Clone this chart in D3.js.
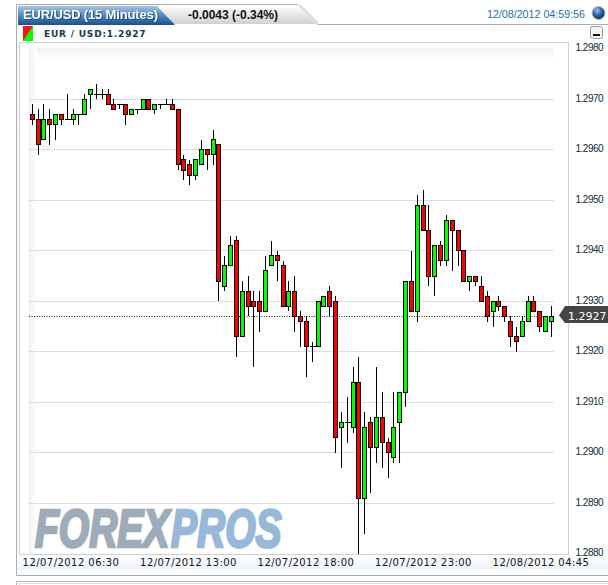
<!DOCTYPE html>
<html><head><meta charset="utf-8">
<script src="https://cdnjs.cloudflare.com/ajax/libs/d3/7.8.5/d3.min.js"></script>
<style>html,body{margin:0;padding:0;background:#fff;overflow:hidden}svg{display:block}</style>
</head><body><svg id="c" width="608" height="585"></svg>
<script>
// Values in 1/10000 above 1.2000: [open, high, low, close]
const opens  = [2967,2966,2962,2966,2965,2967,2966,2966,2967,2967,2971,2971,2971,2971,2969,2969,2969,2967,2968,2968,2970,2968,2969,2969,2969,2968,2958,2957,2955,2957,2960,2959,2961,2933,2937,2942,2923,2932,2930,2930,2928,2937,2939,2937,2929,2932,2927,2926,2921,2921,2929,2932,2930,2905,2906,2905,2914,2891,2906,2901,2907,2902,2899,2906,2912,2934,2928,2949,2944,2935,2941,2938,2946,2944,2940,2934,2935,2933,2931,2928,2930,2929,2926,2923,2923,2926,2930,2928,2924,2926];
const highs  = [2969,2968,2969,2968,2967,2967,2971,2968,2967,2971,2972,2973,2972,2972,2970,2969,2969,2968,2968,2970,2970,2969,2969,2970,2970,2968,2959,2958,2958,2962,2960,2964,2961,2939,2943,2943,2934,2935,2932,2932,2939,2942,2940,2938,2934,2935,2928,2927,2922,2930,2931,2933,2931,2908,2911,2917,2919,2908,2907,2917,2912,2903,2912,2912,2934,2940,2951,2952,2949,2941,2942,2947,2946,2944,2940,2935,2935,2935,2932,2930,2931,2929,2927,2925,2927,2931,2931,2928,2927,2929];
const lows   = [2965,2959,2962,2961,2962,2965,2966,2965,2965,2967,2968,2970,2970,2969,2968,2968,2965,2967,2967,2968,2968,2967,2968,2969,2968,2956,2954,2953,2954,2957,2956,2957,2930,2932,2937,2919,2923,2927,2917,2924,2928,2937,2934,2929,2928,2924,2921,2915,2918,2921,2929,2927,2900,2897,2902,2904,2880,2884,2892,2898,2897,2895,2898,2898,2909,2928,2926,2944,2933,2931,2937,2937,2936,2937,2934,2932,2933,2930,2926,2925,2928,2926,2921,2920,2923,2926,2928,2924,2924,2923];
const closes = [2966,2961,2966,2965,2967,2966,2966,2967,2967,2970,2972,2971,2971,2969,2968,2969,2967,2968,2968,2970,2968,2969,2969,2969,2968,2957,2956,2955,2958,2960,2959,2962,2934,2937,2941,2923,2932,2929,2929,2928,2936,2939,2938,2929,2932,2927,2926,2921,2921,2930,2931,2929,2903,2906,2906,2914,2891,2905,2901,2907,2902,2900,2905,2912,2934,2928,2949,2944,2935,2941,2938,2946,2944,2940,2934,2935,2934,2930,2927,2930,2929,2927,2923,2922,2926,2930,2928,2925,2927,2927];
const priceTicks = ["1.2980","1.2970","1.2960","1.2950","1.2940","1.2930","1.2920","1.2910","1.2900","1.2890","1.2880"];
const timeTicks = ["12/07/2012 06:30","12/07/2012 13:00","12/07/2012 18:00","12/07/2012 23:00","12/08/2012 04:45"];
const lastPrice = 1.2927;
const titleText = "EUR/USD (15 Minutes)", changeText = "-0.0043 (-0.34%)", stampText = "12/08/2012 04:59:56", pairText = "EUR / USD:1.2927";

const svg = d3.select("#c");
const defs = svg.append("defs");
function grad(id, stops, horiz){
  const g = defs.append("linearGradient").attr("id",id).attr("x1",0).attr("y1",0).attr("x2",horiz?1:0).attr("y2",horiz?0:1);
  stops.forEach(s=>g.append("stop").attr("offset",s[0]).attr("stop-color",s[1]));
}
grad("blue",[[0,"#a5c4e6"],[.5,"#5189c2"],[1,"#17508f"]]);
grad("gray",[[0,"#ffffff"],[1,"#d0d0d0"]]);
grad("shadeL",[[0,"#f1f1f1"],[1,"#ffffff"]],true);
grad("shadeT",[[0,"#f1f1f1"],[1,"#ffffff"]]);
grad("strip",[[0,"#ffffff"],[1,"#ecf3fb"]]);
const globeG = defs.append("radialGradient").attr("id","globe").attr("cx",.4).attr("cy",.3).attr("r",.7);
[[0,"#9cc4ee"],[.5,"#2a68b0"],[1,"#10305c"]].forEach(s=>globeG.append("stop").attr("offset",s[0]).attr("stop-color",s[1]));

const y = d3.scaleLinear().domain([1.2880,1.2980]).range([553.8,48.8]);
const x = d3.scaleLinear().domain([0,89]).range([31.8,550.9]);
const xt = d3.scalePoint().domain(timeTicks).range([70.5,540.5]);
const px = v => 1 + v/10000;

// outer frame
svg.append("path").attr("d","M16.5,575.5V4.5H298L318,24.5H608").attr("fill","none").attr("stroke","#a8adb0");
svg.append("path").attr("d","M16.5,575.5H608").attr("stroke","#a8adb0").attr("fill","none");
svg.append("path").attr("d","M16.5,585V581.5H608").attr("stroke","#b4b8ba").attr("fill","none");
svg.append("path").attr("d","M19.5,585V583.5H608").attr("stroke","#dcdcdc").attr("fill","none");
// tabs
svg.append("path").attr("d","M18,5H297L316,24H18Z").attr("fill","url(#gray)");
svg.append("path").attr("d","M300,5.5L318,23").attr("stroke","#dddddd").attr("stroke-width",2).attr("fill","none");
svg.append("path").attr("d","M18,6H157L175,25H18Z").attr("fill","url(#blue)");
svg.append("text").text(titleText).attr("x",90.5).attr("y",18.5).attr("text-anchor","middle").attr("textLength",135)
  .attr("font-family","Liberation Sans").attr("font-weight","bold").attr("font-size",13).attr("fill","#fff")
  .style("filter","drop-shadow(1px 1px 0 #1f4f85)");
svg.append("text").text(changeText).attr("x",233).attr("y",18.5).attr("text-anchor","middle")
  .attr("font-family","Liberation Sans").attr("font-weight","bold").attr("font-size",12).attr("fill","#111");
svg.append("text").text(stampText).attr("x",585).attr("y",18).attr("text-anchor","end")
  .attr("font-family","Liberation Sans").attr("font-size",10.7).attr("fill","#2a6cb0");
svg.append("circle").attr("cx",598.5).attr("cy",13).attr("r",6.5).attr("fill","url(#globe)").attr("stroke","#b8b8b8");
// minimize button
svg.append("rect").attr("x",590.5).attr("y",26.5).attr("width",12).attr("height",12).attr("rx",2).attr("fill","#f3f3f3").attr("stroke","#9a9a9a");
svg.append("rect").attr("x",593).attr("y",34).attr("width",7).attr("height",2).attr("fill","#111");
// pair row
svg.append("path").attr("d","M23,26H33V41H23Z").attr("fill","#00ff00");
svg.append("path").attr("d","M23,26H33L23,41Z").attr("fill","#ff1111");
svg.append("text").text(pairText).attr("x",44).attr("y",37).attr("font-family","DejaVu Sans").attr("font-weight","bold")
  .attr("font-size",9).attr("letter-spacing",.8).attr("fill","#0f3a48");
// plot frame
svg.append("rect").attr("x",19.5).attr("y",42.5).attr("width",549).attr("height",512).attr("fill","#fff").attr("stroke","#cfd1d2");
svg.append("rect").attr("x",29).attr("y",48).attr("width",525).attr("height",12).attr("fill","url(#shadeT)");
svg.append("rect").attr("x",29).attr("y",48).attr("width",8).attr("height",506).attr("fill","url(#shadeL)");
svg.append("rect").attr("x",17).attr("y",555).attr("width",591).attr("height",15).attr("fill","url(#strip)");

// gridlines
svg.append("g").selectAll("line").data(priceTicks.slice(1,-1)).join("line")
  .attr("x1",29).attr("x2",554).attr("y1",d=>Math.floor(y(+d))+.5).attr("y2",d=>Math.floor(y(+d))+.5)
  .attr("stroke","#dcdcdc");
// logo
const logoAttrs = s => s.attr("font-family","Liberation Sans").attr("font-weight","bold").attr("font-style","italic").attr("font-size",39).attr("stroke-width",2);
svg.append("text").call(logoAttrs).attr("transform","translate(35,546.5) scale(1,1.36)").attr("fill","#9eabb8").attr("stroke","#9eabb8").text("FOREX");
svg.append("text").call(logoAttrs).attr("transform","translate(171,546.5) scale(1,1.36)").attr("fill","#98b8d9").attr("stroke","#98b8d9").text("PROS");
// last price line
svg.append("line").attr("x1",29).attr("x2",554).attr("y1",Math.floor(y(lastPrice))+.5).attr("y2",Math.floor(y(lastPrice))+.5)
  .attr("stroke","#222").attr("stroke-dasharray","1,1.5");

// candles
const g = svg.append("g").attr("shape-rendering","crispEdges");
const idx = d3.range(opens.length);
g.selectAll("line").data(idx).join("line")
  .attr("x1",i=>Math.round(x(i))+.5).attr("x2",i=>Math.round(x(i))+.5)
  .attr("y1",i=>y(px(highs[i]))).attr("y2",i=>y(px(lows[i])))
  .attr("stroke","#000");
g.selectAll("path").data(idx.filter(i=>opens[i]===closes[i])).join("path")
  .attr("d",i=>{const c=Math.round(x(i))+.5,v=Math.floor(y(px(opens[i])))+.5;return `M${c-2.5},${v}H${c+3}`;}).attr("stroke","#000");
g.selectAll("rect").data(idx.filter(i=>opens[i]!==closes[i])).join("rect")
  .attr("x",i=>Math.round(x(i))-1.5).attr("width",4)
  .attr("y",i=>Math.floor(y(px(Math.max(opens[i],closes[i]))))+.5)
  .attr("height",i=>Math.floor(y(px(Math.min(opens[i],closes[i]))))-Math.floor(y(px(Math.max(opens[i],closes[i])))))
  .attr("fill",i=>closes[i]>opens[i]?"#00ff00":"#ff0000").attr("stroke","#000");

// axes
const ay = d3.axisRight(y).tickValues(priceTicks.map(Number)).tickFormat(d3.format(".4f")).tickSize(0);
const gy = svg.append("g").attr("transform","translate(572,-1.5)").call(ay);
gy.select(".domain").remove();
gy.selectAll("text").attr("x",3.5).attr("font-family","Liberation Sans").attr("font-size",10).attr("letter-spacing",-.5).attr("fill","#0c2c34");
const ax = d3.axisBottom(xt).tickSize(0);
const gx = svg.append("g").attr("transform","translate(0,554)").call(ax);
gx.select(".domain").remove();
gx.selectAll("text").attr("y",4.5).attr("dy","0.71em").attr("letter-spacing",.45).attr("font-family","DejaVu Sans").attr("font-size",10).attr("fill","#111");

// current price tag
svg.append("path").attr("d","M559,315.5L565,306H608V323H565Z").attr("fill","#454545");
svg.append("text").text("1.2927").attr("x",568).attr("y",319.5).attr("font-family","DejaVu Sans")
  .attr("font-size",11).attr("fill","#fff");
</script></body></html>
